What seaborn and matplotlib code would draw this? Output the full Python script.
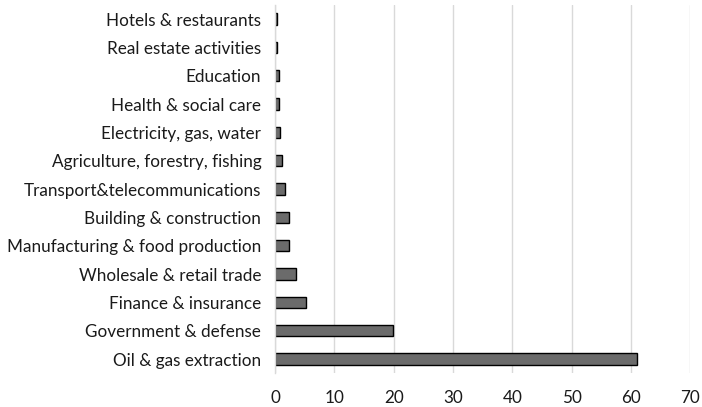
import pandas as pd
import matplotlib
matplotlib.use("Agg")
import matplotlib.pyplot as plt
import seaborn as sns

sectors = [
    "Hotels & restaurants",
    "Real estate activities",
    "Education",
    "Health & social care",
    "Electricity, gas, water",
    "Agriculture, forestry, fishing",
    "Transport&telecommunications",
    "Building & construction",
    "Manufacturing & food production",
    "Wholesale & retail trade",
    "Finance & insurance",
    "Government & defense",
    "Oil & gas extraction",
]
values = [0.3, 0.3, 0.65, 0.6, 0.8, 1.1, 1.6, 2.25, 2.4, 3.5, 5.2, 19.8, 61.1]
x_ticks = [0, 10, 20, 30, 40, 50, 60, 70]

df = pd.DataFrame({"sector": sectors, "value": values})

sns.set_style("white")
plt.rcParams["font.family"] = ["Lato", "DejaVu Sans"]

fig = plt.figure(figsize=(7.02, 4.07), dpi=100)
ax = fig.add_axes([0.392, 0.083, 0.591, 0.905])

sns.barplot(data=df, x="value", y="sector", order=sectors, color="#6b6b6b",
            saturation=1, width=0.4, edgecolor="black", linewidth=1, ax=ax)

ax.set_xlim(0, 70)
ax.set_xticks(x_ticks)
ax.xaxis.grid(True, color="#d9d9d9", linewidth=1)
ax.set_axisbelow(True)
for s in ["top", "right", "bottom"]:
    ax.spines[s].set_visible(False)
ax.spines["left"].set_color("#d9d9d9")
ax.spines["left"].set_linewidth(1)
ax.tick_params(axis="both", length=0, labelsize=12.3, colors="#1a1a1a")
ax.tick_params(axis="x", pad=12)
ax.tick_params(axis="y", pad=10)
ax.set_xlabel("")
ax.set_ylabel("")

fig.savefig("out.png", dpi=100)
